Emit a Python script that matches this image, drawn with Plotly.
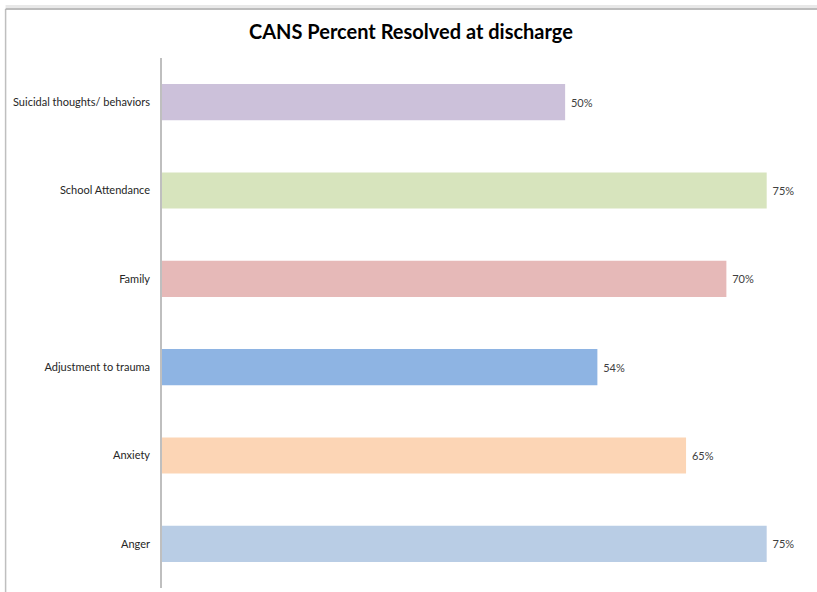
import plotly.graph_objects as go

categories = ["Suicidal thoughts/ behaviors", "School Attendance", "Family",
              "Adjustment to trauma", "Anxiety", "Anger"]
values = [50, 75, 70, 54, 65, 75]
labels = ["50%", "75%", "70%", "54%", "65%", "75%"]
colors = ["#CCC1DA", "#D7E4BD", "#E6B9B8", "#8EB4E3", "#FCD5B5", "#B9CDE5"]

fig = go.Figure()
fig.add_trace(go.Bar(
    x=values, y=categories, orientation="h",
    marker=dict(color=colors, line=dict(width=0)),
    text=["\u00a0" + t for t in labels], textposition="outside", cliponaxis=False,
    textfont=dict(size=11, color="#404040", family="Lato"),
))

# chart frame (top and left edges visible)
fig.add_shape(type="line", xref="paper", yref="paper",
              x0=-0.2425, x1=-0.2425, y0=-0.1, y1=1.0925,
              line=dict(color="#BFBFBF", width=1.5))
fig.add_shape(type="line", xref="paper", yref="paper",
              x0=-0.2425, x1=1.2, y0=1.0925, y1=1.0925,
              line=dict(color="#A6A6A6", width=1.5))
fig.add_shape(type="line", xref="paper", yref="paper",
              x0=-0.2425, x1=1.2, y0=1.097, y1=1.097,
              line=dict(color="#E8E8E8", width=3))

fig.update_layout(
    width=817, height=592,
    margin=dict(l=162, r=10, t=58, b=4, autoexpand=False),
    paper_bgcolor="white", plot_bgcolor="white",
    title=dict(text="<b>CANS Percent Resolved at discharge</b>",
               x=0.503, xanchor="center", y=0.946, yanchor="middle",
               font=dict(size=20, color="black", family="Lato")),
    bargap=0.59,
    showlegend=False,
    font=dict(family="Lato", size=11, color="#262626"),
)
fig.update_xaxes(range=[0, 80], visible=False, showgrid=False, automargin=False)
fig.update_yaxes(autorange="reversed", showgrid=False, showline=True,
                 linecolor="#BFBFBF", linewidth=1.5, ticks="", automargin=False,
                 ticklabelstandoff=8, tickfont=dict(size=11, color="#262626"))

fig.write_html("out.html", config={"displayModeBar": False},
               post_script="document.body.style.margin='0';")
